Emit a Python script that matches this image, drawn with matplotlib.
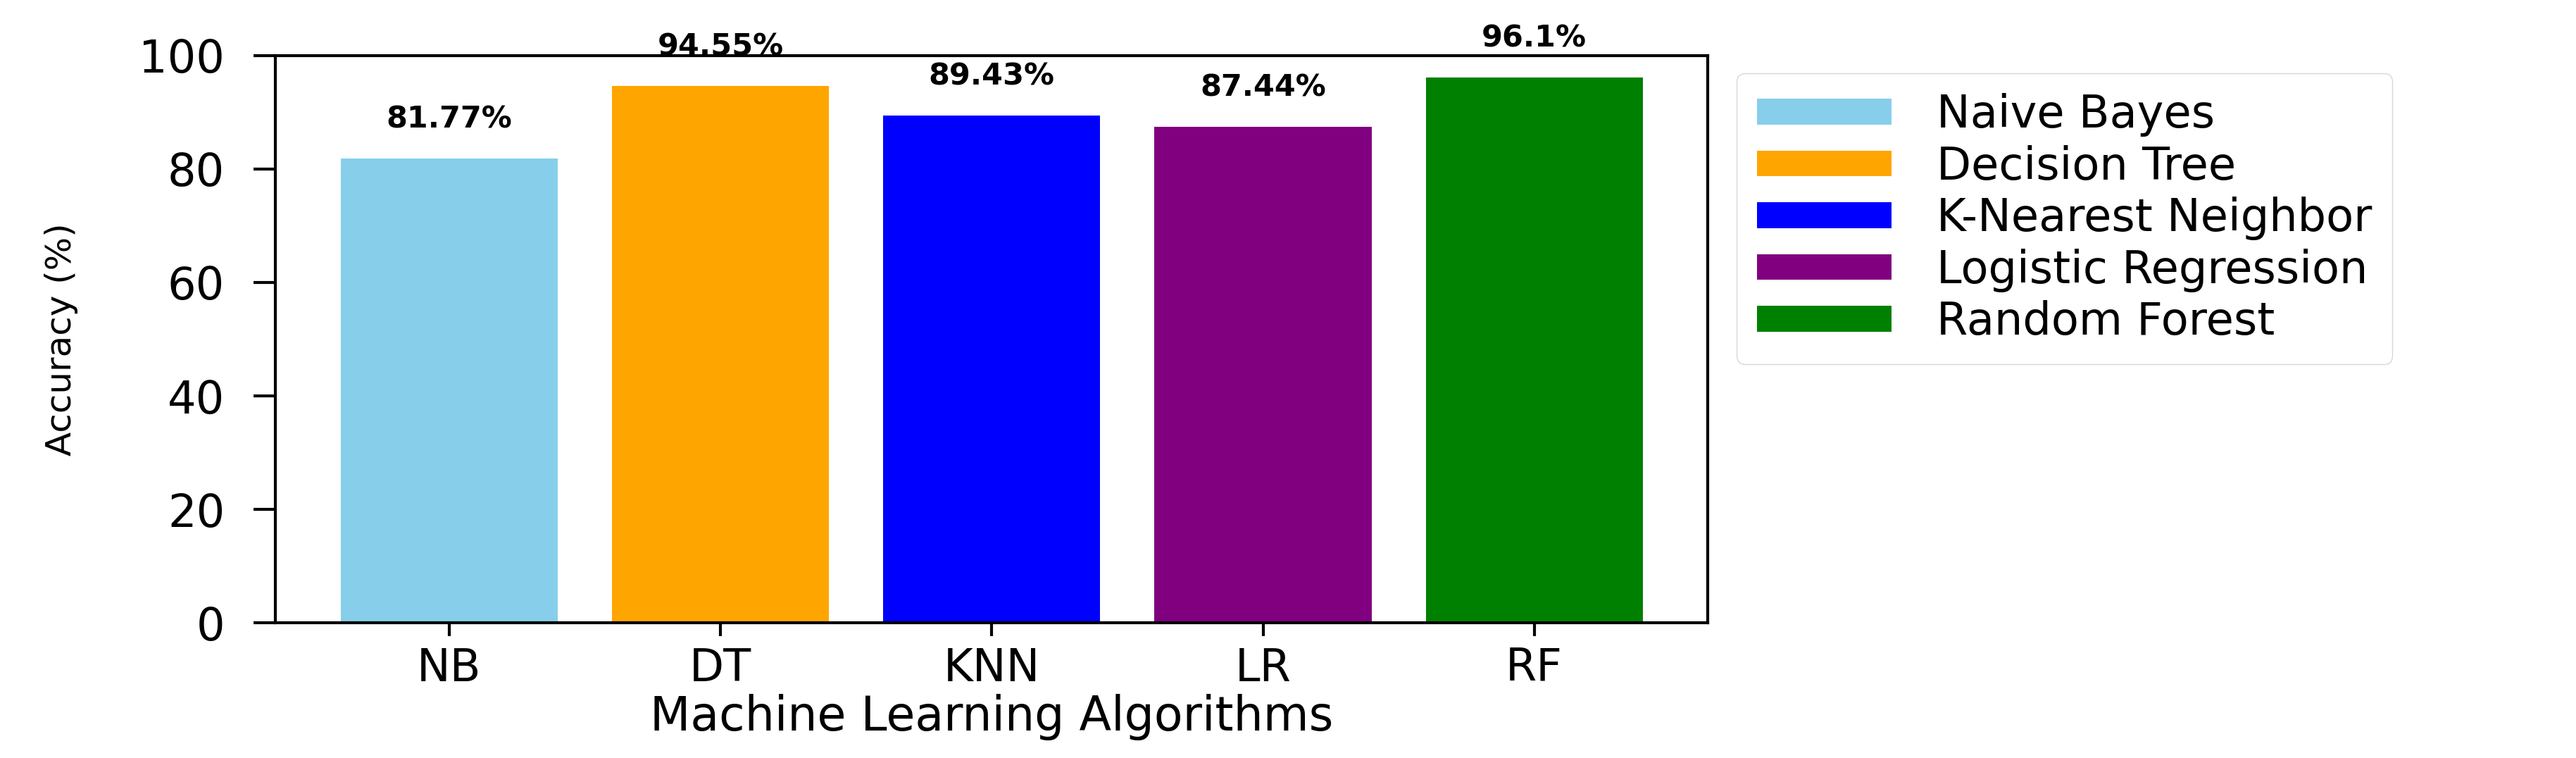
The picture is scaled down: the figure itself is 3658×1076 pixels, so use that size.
import matplotlib.pyplot as plt

algos = ["NB", "DT", "KNN", "LR", "RF"]
names = ["Naive Bayes", "Decision Tree", "K-Nearest Neighbor",
         "Logistic Regression", "Random Forest"]
accuracy = [81.77, 94.55, 89.43, 87.44, 96.1]
labels = ["81.77%", "94.55%", "89.43%", "87.44%", "96.1%"]
colors = ["skyblue", "orange", "blue", "purple", "green"]

fig = plt.figure(figsize=(36.58, 10.76), dpi=100)
ax = fig.add_axes([0.107, 0.178, 0.556, 0.749])

bars = ax.bar(algos, accuracy, color=colors, label=names, width=0.8)
for b, v, t in zip(bars, accuracy, labels):
    ax.text(b.get_x() + b.get_width() / 2, v + 4.3, t, ha="center", va="bottom",
            fontsize=31, fontweight="bold")

ax.set_ylim(0, 100)
ax.set_xlabel("Machine Learning Algorithms", fontsize=48, labelpad=4)
ax.set_ylabel("Accuracy (%)", fontsize=36, labelpad=62)
ax.tick_params(axis="both", labelsize=46, width=3, length=22, pad=10)
ax.tick_params(axis="y", pad=30)
ax.tick_params(axis="x", length=14)
for s in ax.spines.values():
    s.set_linewidth(3)

ax.legend(loc="upper left", bbox_to_anchor=(1.02, 0.969), borderaxespad=0,
          fontsize=46, handlelength=3.0, handleheight=0.5, handletextpad=1.0,
          labelspacing=0.18, borderpad=0.45)

fig.savefig("out.png", dpi=100)
